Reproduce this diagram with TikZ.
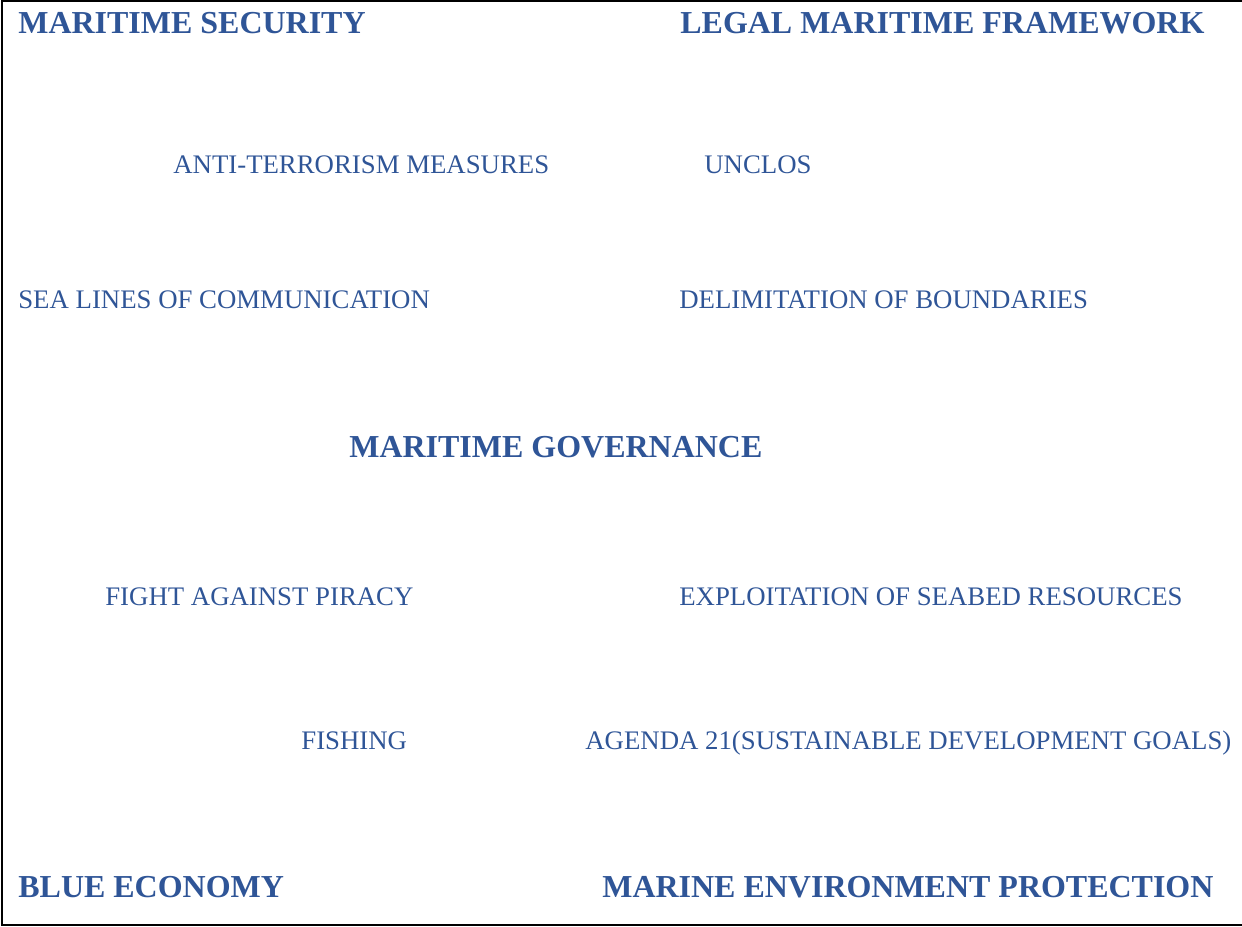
\documentclass[tikz,border=0pt]{standalone}
\usepackage{fontspec}
\setmainfont{Liberation Serif}
\usepackage{tikz}
\usetikzlibrary{positioning}
\definecolor{govblue}{RGB}{47,85,151}
\tikzset{
  head/.style = {anchor = base west, inner sep = 0, text = govblue,
                 font = \fontsize{18.2pt}{20pt}\selectfont\bfseries},
  item/.style = {anchor = base west, inner sep = 0, text = govblue,
                 font = \fontsize{15.25pt}{17pt}\selectfont},
  frame/.style = {line width = 1.2pt}
}

\begin{document}
\begin{tikzpicture}[x = 0.02cm, y = -0.02cm]
      \useasboundingbox (0, 0) rectangle (1242, 927);
      \draw [frame] (1242, 1) -- (2, 1) -- (2, 925) -- (1242, 925);

      % corner headings
      \node [head] (security) at (18, 33) {MARITIME SECURITY};
      \node [head] (legal) at (680, 33) {LEGAL MARITIME FRAMEWORK};
      \node [head] (blue) at (18, 897) {BLUE ECONOMY};
      \node [head] (marine) at (602, 897) {MARINE ENVIRONMENT PROTECTION};

      % centre
      \node [head] (governance) at (349, 457) {MARITIME GOVERNANCE};

      % upper items
      \node [item] (terror) at (173, 173) {ANTI-TERRORISM MEASURES};
      \node [item] (unclos) at (704, 173) {UNCLOS};
      \node [item] (sealines) at (18, 308) {SEA LINES OF COMMUNICATION};
      \node [item] (bounds) at (679, 308) {DELIMITATION OF BOUNDARIES};

      % lower items
      \node [item] (piracy) at (105, 605) {FIGHT AGAINST PIRACY};
      \node [item] (seabed) at (679, 605) {EXPLOITATION OF SEABED RESOURCES};
      \node [item] (fishing) at (301, 749) {FISHING};
      \node [item] (agenda) at (585, 749) {AGENDA 21(SUSTAINABLE DEVELOPMENT GOALS)};
    \end{tikzpicture}
\end{document}
